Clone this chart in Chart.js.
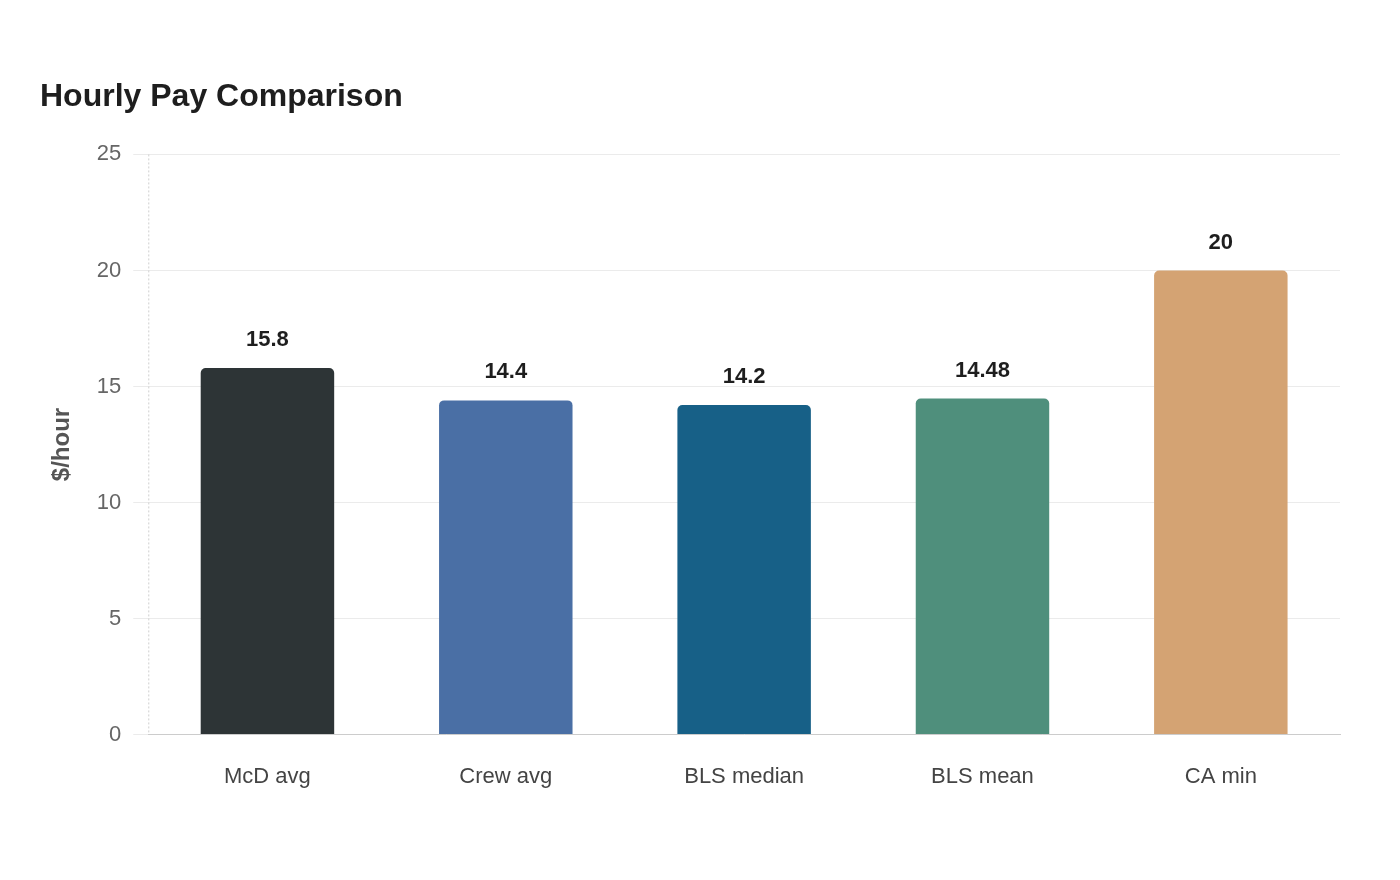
<!DOCTYPE html>
<html>
<head>
<meta charset="utf-8">
<script src="https://cdn.jsdelivr.net/npm/chart.js@4.4.1/dist/chart.umd.min.js"></script>
<style>
  html, body { margin: 0; padding: 0; background: #fff; }
  #wrap { width: 1400px; height: 880px; }
</style>
</head>
<body>
<div id="wrap"><canvas id="chart"></canvas></div>
<script>
const categories = ["McD avg", "Crew avg", "BLS median", "BLS mean", "CA min"];
const payValues = [15.8, 14.4, 14.2, 14.48, 20];
const barColors = ["#2d3436", "#4a6fa5", "#176087", "#4f8f7c", "#d4a373"];

const FONT = "Liberation Sans, Arial, Helvetica, sans-serif";
Chart.defaults.font.family = FONT;

// value above each bar + dotted y axis line
const extras = {
  id: "extras",
  beforeDatasetsDraw(chart) {
    const { ctx, chartArea } = chart;
    ctx.save();
    ctx.strokeStyle = "#cfcfcf";
    ctx.lineWidth = 1;
    ctx.setLineDash([2, 2]);
    ctx.beginPath();
    ctx.moveTo(chartArea.left + 0.5, chartArea.top);
    ctx.lineTo(chartArea.left + 0.5, chartArea.bottom);
    ctx.stroke();
    ctx.restore();
  },
  afterDatasetsDraw(chart) {
    const ctx = chart.ctx;
    const meta = chart.getDatasetMeta(0);
    ctx.save();
    ctx.font = "bold 22px " + FONT;
    ctx.fillStyle = "#1e1e1e";
    ctx.textAlign = "center";
    ctx.textBaseline = "middle";
    meta.data.forEach((bar, i) => {
      ctx.fillText(String(payValues[i]), bar.x, bar.y - 28);
    });
    ctx.restore();
  }
};

new Chart(document.getElementById("chart"), {
  type: "bar",
  data: {
    labels: categories,
    datasets: [{
      label: "$/hour",
      data: payValues,
      backgroundColor: barColors,
      borderRadius: { topLeft: 5, topRight: 5 },
      borderSkipped: "bottom",
      barPercentage: 0.7,
      categoryPercentage: 0.8
    }]
  },
  options: {
    responsive: true,
    maintainAspectRatio: false,
    animation: false,
    layout: { padding: { left: 40, right: 60, top: 78, bottom: 61 } },
    plugins: {
      legend: { display: false },
      tooltip: { enabled: false },
      title: {
        display: true,
        text: "Hourly Pay Comparison",
        align: "start",
        color: "#1e1e1e",
        font: { size: 32, weight: "bold" },
        padding: { top: 0, bottom: 38 }
      }
    },
    scales: {
      x: {
        grid: { display: false, drawTicks: false },
        border: { color: "#cccccc", width: 1 },
        ticks: {
          color: "#444",
          padding: 29,
          font: { size: 22 }
        }
      },
      y: {
        min: 0,
        max: 25,
        ticks: {
          stepSize: 5,
          color: "#666",
          padding: 12,
          font: { size: 22 }
        },
        grid: { color: "#ebebeb", tickLength: 15, tickColor: "#ebebeb" },
        border: { display: false },
        title: {
          display: true,
          text: "$/hour",
          color: "#555",
          padding: { top: 8, bottom: 8 },
          font: { size: 24, weight: "bold" }
        }
      }
    }
  },
  plugins: [extras]
});
</script>
</body>
</html>
